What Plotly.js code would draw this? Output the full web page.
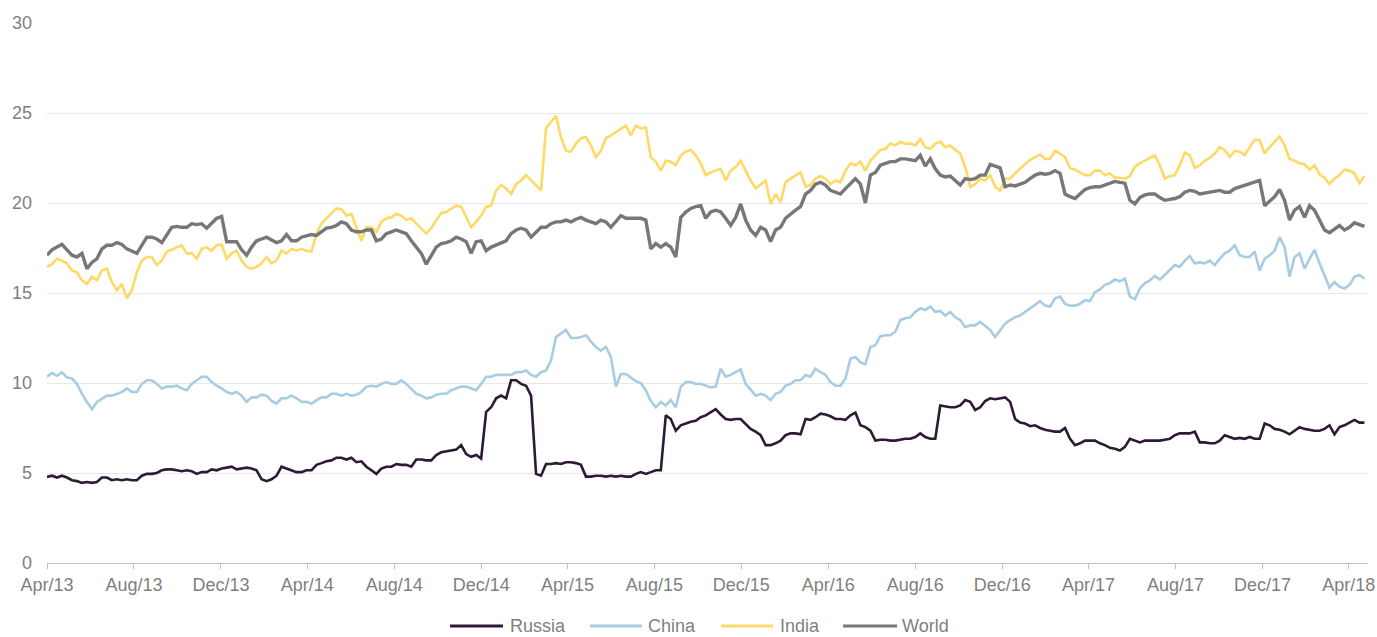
<!DOCTYPE html>
<html>
<head>
<meta charset="utf-8">
<script src="https://cdn.plot.ly/plotly-3.0.1.min.js"></script>
<style>
  html, body { margin: 0; padding: 0; background: #ffffff; }
  #chart { width: 1377px; height: 637px; }
</style>
</head>
<body>
<div id="chart"></div>
<script>
// Weekly observations starting 2013-04-01
const startDate = '2013-04-01';
const seriesNames = ['Russia', 'China', 'India', 'World'];

const russia = [
  4.78,4.85,4.75,4.85,4.75,4.6,4.55,4.45,4.5,4.45,
  4.5,4.75,4.75,4.6,4.65,4.6,4.65,4.6,4.6,4.85,
  4.95,4.95,5.0,5.15,5.2,5.2,5.15,5.1,5.15,5.1,
  4.95,5.05,5.05,5.2,5.15,5.25,5.3,5.35,5.2,5.25,
  5.3,5.25,5.15,4.65,4.55,4.65,4.85,5.35,5.25,5.15,
  5.05,5.05,5.15,5.15,5.45,5.55,5.65,5.7,5.85,5.85,
  5.75,5.85,5.6,5.65,5.35,5.15,4.95,5.25,5.35,5.35,
  5.5,5.45,5.45,5.35,5.75,5.75,5.7,5.7,6.0,6.15,
  6.2,6.25,6.3,6.55,6.05,5.9,6.0,5.8,8.4,8.65,
  9.15,9.3,9.15,10.15,10.15,9.95,9.85,9.3,4.95,4.85,
  5.5,5.5,5.55,5.5,5.6,5.6,5.55,5.45,4.8,4.8,
  4.85,4.85,4.8,4.85,4.8,4.85,4.8,4.8,4.95,5.05,
  4.95,5.05,5.15,5.15,8.2,8.0,7.35,7.65,7.75,7.85,
  7.9,8.1,8.2,8.4,8.55,8.25,8.0,7.95,8.0,8.0,
  7.75,7.45,7.3,7.1,6.55,6.55,6.65,6.8,7.1,7.2,
  7.2,7.15,8.0,7.95,8.1,8.3,8.25,8.15,8.0,8.0,
  7.95,8.2,8.35,7.65,7.55,7.35,6.8,6.85,6.85,6.8,
  6.8,6.85,6.9,6.9,7.0,7.2,7.0,6.9,6.9,8.75,
  8.7,8.65,8.65,8.75,9.05,8.95,8.5,8.65,9.0,9.15,
  9.1,9.15,9.2,8.95,8.0,7.8,7.75,7.6,7.65,7.5,
  7.4,7.35,7.3,7.3,7.5,6.9,6.55,6.65,6.8,6.8,
  6.8,6.65,6.55,6.4,6.35,6.25,6.45,6.9,6.8,6.7,
  6.8,6.8,6.8,6.8,6.85,6.9,7.1,7.2,7.2,7.2,
  7.3,6.7,6.7,6.65,6.65,6.8,7.1,7.0,6.9,6.95,
  6.9,7.0,6.9,6.9,7.75,7.65,7.45,7.4,7.3,7.15,
  7.35,7.55,7.45,7.4,7.35,7.35,7.45,7.65,7.15,7.55,
  7.65,7.8,7.95,7.8,7.8
];

const china = [
  10.35,10.55,10.4,10.6,10.3,10.25,9.95,9.4,8.95,8.55,
  8.95,9.15,9.3,9.3,9.4,9.5,9.7,9.5,9.5,9.95,
  10.15,10.15,9.95,9.7,9.8,9.8,9.85,9.7,9.6,9.95,
  10.15,10.35,10.35,10.05,9.85,9.7,9.5,9.4,9.5,9.3,
  8.95,9.2,9.2,9.35,9.3,9.0,8.85,9.15,9.15,9.3,
  9.15,8.95,8.95,8.85,9.05,9.2,9.2,9.4,9.4,9.3,
  9.4,9.3,9.35,9.5,9.8,9.85,9.8,9.95,10.05,9.95,
  9.95,10.15,9.95,9.7,9.4,9.3,9.15,9.2,9.35,9.4,
  9.4,9.6,9.7,9.8,9.8,9.7,9.6,9.95,10.35,10.35,
  10.45,10.45,10.45,10.45,10.6,10.6,10.7,10.45,10.35,10.6,
  10.7,11.25,12.55,12.75,12.95,12.5,12.5,12.55,12.65,12.3,
  12.0,11.8,12.0,11.45,9.8,10.5,10.5,10.3,10.1,10.0,
  9.6,9.0,8.65,8.95,8.75,9.05,8.65,9.8,10.05,10.05,
  9.95,9.95,9.85,9.75,9.8,10.8,10.35,10.45,10.6,10.75,
  9.95,9.6,9.3,9.4,9.3,9.05,9.4,9.5,9.85,9.95,
  10.15,10.15,10.45,10.35,10.8,10.6,10.45,10.05,9.85,9.85,
  10.25,11.35,11.45,11.15,11.05,12.0,12.1,12.6,12.65,12.65,
  12.85,13.5,13.6,13.65,13.95,14.15,14.05,14.25,13.95,14.0,
  13.75,13.95,13.65,13.5,13.1,13.2,13.2,13.4,13.2,12.95,
  12.55,12.95,13.3,13.5,13.65,13.75,13.95,14.15,14.3,14.55,
  14.3,14.25,14.7,14.8,14.4,14.3,14.3,14.4,14.6,14.55,
  15.05,15.2,15.45,15.55,15.75,15.65,15.8,14.8,14.65,15.25,
  15.55,15.7,15.95,15.75,16.0,16.25,16.55,16.45,16.8,17.05,
  16.65,16.7,16.65,16.8,16.55,16.9,17.2,17.35,17.65,17.1,
  17.0,17.0,17.3,16.25,16.9,17.1,17.35,18.1,17.55,15.9,
  17.0,17.2,16.35,16.9,17.4,16.65,15.95,15.3,15.6,15.35,
  15.25,15.45,15.9,16.0,15.8
];

const india = [
  16.45,16.6,16.9,16.8,16.65,16.25,16.15,15.7,15.5,15.9,
  15.7,16.25,16.35,15.6,15.15,15.5,14.7,15.15,16.15,16.8,
  17.0,17.0,16.55,16.8,17.3,17.4,17.55,17.65,17.2,17.2,
  16.9,17.45,17.55,17.35,17.65,17.7,16.9,17.2,17.35,16.8,
  16.45,16.35,16.45,16.65,17.0,16.65,16.8,17.35,17.2,17.45,
  17.35,17.45,17.35,17.3,18.3,18.85,19.15,19.4,19.7,19.65,
  19.3,19.4,18.65,17.9,18.65,18.65,18.4,18.95,19.15,19.2,
  19.4,19.3,19.05,19.15,18.85,18.6,18.3,18.6,19.05,19.45,
  19.5,19.7,19.85,19.8,19.2,18.65,18.95,19.3,19.8,19.85,
  20.7,21.0,20.8,20.5,21.05,21.25,21.55,21.25,21.0,20.7,
  24.15,24.5,24.85,23.65,22.9,22.85,23.3,23.6,23.65,23.2,
  22.55,22.9,23.6,23.75,23.95,24.15,24.3,23.75,24.3,24.15,
  24.2,22.55,22.3,21.8,22.35,22.3,22.1,22.65,22.85,22.95,
  22.65,22.2,21.55,21.7,21.8,21.9,21.25,21.8,22.0,22.35,
  21.8,21.25,20.8,21.05,21.25,19.95,20.5,20.05,21.15,21.35,
  21.55,21.7,20.9,21.0,21.35,21.5,21.35,21.05,21.25,21.15,
  21.8,22.2,22.1,22.3,21.8,22.35,22.65,22.95,23.0,23.3,
  23.2,23.4,23.3,23.3,23.2,23.55,23.1,23.0,23.3,23.4,
  23.1,23.2,22.95,22.75,22.0,20.9,21.05,21.35,21.25,21.55,
  20.9,20.7,21.35,21.35,21.65,21.9,22.2,22.4,22.55,22.7,
  22.45,22.45,22.9,22.75,22.55,21.95,21.85,21.7,21.55,21.55,
  21.8,21.8,21.55,21.65,21.4,21.4,21.35,21.5,22.0,22.2,
  22.35,22.5,22.65,22.1,21.35,21.5,21.55,22.1,22.8,22.65,
  21.95,22.1,22.35,22.5,22.75,23.1,22.95,22.55,22.9,22.85,
  22.65,23.1,23.5,23.5,22.75,23.1,23.4,23.7,23.2,22.45,
  22.35,22.2,22.15,21.85,22.1,21.6,21.4,21.05,21.35,21.55,
  21.85,21.8,21.65,21.1,21.5
];

const world = [
  17.1,17.4,17.55,17.7,17.4,17.1,17.0,17.2,16.35,16.7,
  16.9,17.45,17.65,17.65,17.8,17.7,17.45,17.35,17.2,17.65,
  18.1,18.1,18.0,17.8,18.2,18.65,18.7,18.65,18.65,18.85,
  18.8,18.85,18.6,18.85,19.15,19.25,17.85,17.85,17.85,17.4,
  17.1,17.55,17.9,18.0,18.1,17.95,17.8,17.9,18.25,17.9,
  17.9,18.1,18.2,18.25,18.2,18.4,18.6,18.65,18.75,18.95,
  18.85,18.5,18.4,18.4,18.5,18.5,17.9,18.0,18.3,18.4,
  18.5,18.4,18.3,17.9,17.55,17.2,16.6,17.1,17.55,17.75,
  17.8,17.9,18.1,18.0,17.85,17.2,17.85,17.9,17.35,17.55,
  17.65,17.75,17.9,18.3,18.5,18.6,18.5,18.1,18.4,18.65,
  18.65,18.85,18.95,18.95,19.05,18.95,19.1,19.2,19.05,18.95,
  18.85,19.05,18.95,18.65,18.95,19.3,19.15,19.15,19.15,19.15,
  19.05,17.45,17.75,17.55,17.75,17.55,17.0,19.2,19.5,19.7,
  19.8,19.85,19.15,19.5,19.6,19.5,19.15,18.75,19.2,19.95,
  19.05,18.5,18.2,18.65,18.5,17.85,18.5,18.65,19.15,19.4,
  19.6,19.8,20.5,20.7,21.05,21.15,21.0,20.7,20.6,20.5,
  20.8,21.05,21.35,21.05,20.0,21.55,21.7,22.1,22.2,22.3,
  22.3,22.45,22.45,22.4,22.35,22.65,22.05,22.45,21.9,21.55,
  21.45,21.5,21.25,21.0,21.35,21.3,21.35,21.55,21.55,22.15,
  22.05,21.95,20.9,21.0,20.95,21.05,21.15,21.35,21.55,21.65,
  21.6,21.65,21.8,21.65,20.5,20.35,20.25,20.5,20.75,20.85,
  20.9,20.9,21.0,21.1,21.2,21.15,21.1,20.15,19.95,20.3,
  20.45,20.5,20.5,20.3,20.15,20.2,20.25,20.35,20.6,20.7,
  20.65,20.5,20.55,20.6,20.65,20.7,20.6,20.6,20.8,20.9,
  21.0,21.1,21.15,21.25,19.85,20.1,20.35,20.75,20.15,19.05,
  19.6,19.8,19.2,19.85,19.6,19.05,18.5,18.35,18.55,18.75,
  18.5,18.65,18.9,18.8,18.7
];

const seriesData = { Russia: russia, China: china, India: india, World: world };
const styles = {
  Russia: { color: '#2e1a35', width: 2.6 },
  China:  { color: '#a8cce1', width: 2.6 },
  India:  { color: '#ffd966', width: 2.6 },
  World:  { color: '#777777', width: 3.4 }
};
const drawOrder = ['China', 'India', 'World', 'Russia'];
const WEEK_MS = 7 * 24 * 3600 * 1000;

const traces = drawOrder.map(name => ({
  type: 'scatter',
  mode: 'lines',
  name: name,
  x0: startDate,
  dx: WEEK_MS,
  y: seriesData[name],
  line: { color: styles[name].color, width: styles[name].width },
  showlegend: false,
  hoverinfo: 'skip'
}));

// custom legend (line + label), placed in paper coordinates
const legendPos = [
  { x0: 0.3051, x1: 0.3452, tx: 0.3497 },
  { x0: 0.4111, x1: 0.4504, tx: 0.4542 },
  { x0: 0.5102, x1: 0.5496, tx: 0.5541 },
  { x0: 0.6026, x1: 0.6435, tx: 0.6465 }
];
const legendY = -0.1165;
const shapes = seriesNames.map((n, k) => ({
  type: 'line', xref: 'paper', yref: 'paper',
  x0: legendPos[k].x0, x1: legendPos[k].x1, y0: legendY, y1: legendY,
  line: { color: styles[n].color, width: 3 }
}));
const annotations = seriesNames.map((n, k) => ({
  xref: 'paper', yref: 'paper', x: legendPos[k].tx, y: legendY,
  xanchor: 'left', yanchor: 'middle', showarrow: false,
  text: n, font: { size: 18, color: '#7f7f7f' }, borderpad: 0
}));

const layout = {
  width: 1377, height: 637,
  margin: { l: 47, r: 9, t: 23, b: 74 },
  paper_bgcolor: '#ffffff', plot_bgcolor: '#ffffff',
  showlegend: false,
  font: { family: '"Liberation Sans", Arial, sans-serif', size: 18, color: '#7f7f7f' },
  xaxis: {
    type: 'date',
    range: ['2013-04-01', '2018-04-28'],
    tick0: '2013-04-01', dtick: 'M4', tickformat: '%b/%y',
    showgrid: false, zeroline: false,
    showline: true, linecolor: '#bfbfbf', linewidth: 1,
    ticks: 'outside', ticklen: 5, tickcolor: '#bfbfbf', tickwidth: 1,
    ticklabeloverflow: 'allow',
    fixedrange: true
  },
  yaxis: {
    range: [0, 30], tick0: 0, dtick: 5,
    showgrid: true, gridcolor: '#e8e8e8', gridwidth: 1,
    zeroline: false, showline: false, ticks: '',
    ticklabelstandoff: 14,
    fixedrange: true
  },
  shapes: shapes,
  annotations: annotations
};

Plotly.newPlot('chart', traces, layout, { displayModeBar: false, staticPlot: true });
</script>
</body>
</html>
